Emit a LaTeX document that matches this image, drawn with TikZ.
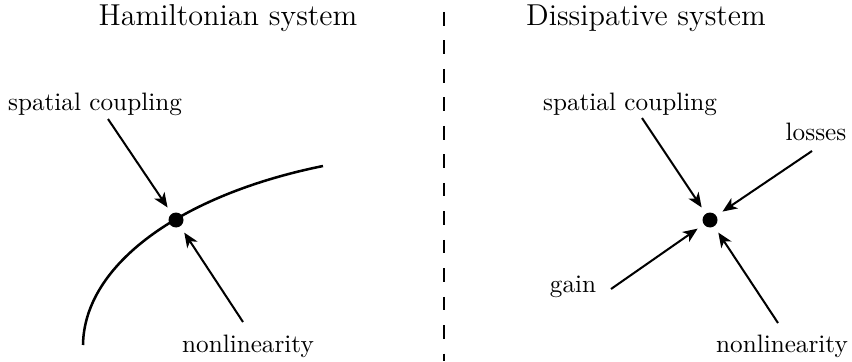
\documentclass[tikz,border=0pt]{standalone}
\usetikzlibrary{arrows.meta}
\begin{document}
\begin{tikzpicture}[x=0.3968pt,y=-0.3968pt,
  lbl/.style={font=\normalsize, inner sep=0pt, anchor=base},
  ttl/.style={font=\large, inner sep=0pt, anchor=base},
  dot/.style={circle, fill, inner sep=0pt, minimum size=5.95pt},
  arr/.style={-{Stealth[length=5.8pt,width=4.8pt,inset=1.6pt]}, line width=0.8pt, shorten >=2.8pt},
  sep/.style={line width=0.6pt, dash pattern=on 5.4pt off 5.9pt},
  orbit/.style={line width=1pt}
]
\useasboundingbox (0,0) rectangle (852,361);
% titles
\node[ttl] (t1) at (228,26) {Hamiltonian system};
\node[ttl] (t2) at (646,26) {Dissipative system};
% separator
\coordinate (dtop) at (444,12);
\coordinate (dbot) at (444,361);
\draw[sep] (dtop) -- (dbot);
% left panel
\node[dot] (d1) at (176,220) {};
\coordinate (c0) at (83,345);
\coordinate (c3) at (323,166);
\draw[orbit] (c0) .. controls (84,265) and (180,195) .. (c3);
\node[lbl] (sc1) at (95,111) {spatial coupling};
\node[lbl] (nl1) at (248,352) {nonlinearity};
\coordinate (a1) at (108,119);
\coordinate (a2) at (243,322);
\draw[arr] (a1) -- (d1);
\draw[arr] (a2) -- (d1);
% right panel
\node[dot] (d2) at (710,220) {};
\node[lbl] (sc2) at (630,110) {spatial coupling};
\node[lbl] (ls2) at (816,140) {losses};
\node[lbl] (gn2) at (573,292) {gain};
\node[lbl] (nl2) at (782,352) {nonlinearity};
\coordinate (b1) at (642,118);
\coordinate (b2) at (812,151);
\coordinate (b3) at (611,289);
\coordinate (b4) at (778,323);
\draw[arr] (b1) -- (d2);
\draw[arr] (b2) -- (d2);
\draw[arr] (b3) -- (d2);
\draw[arr] (b4) -- (d2);
\end{tikzpicture}
\end{document}
